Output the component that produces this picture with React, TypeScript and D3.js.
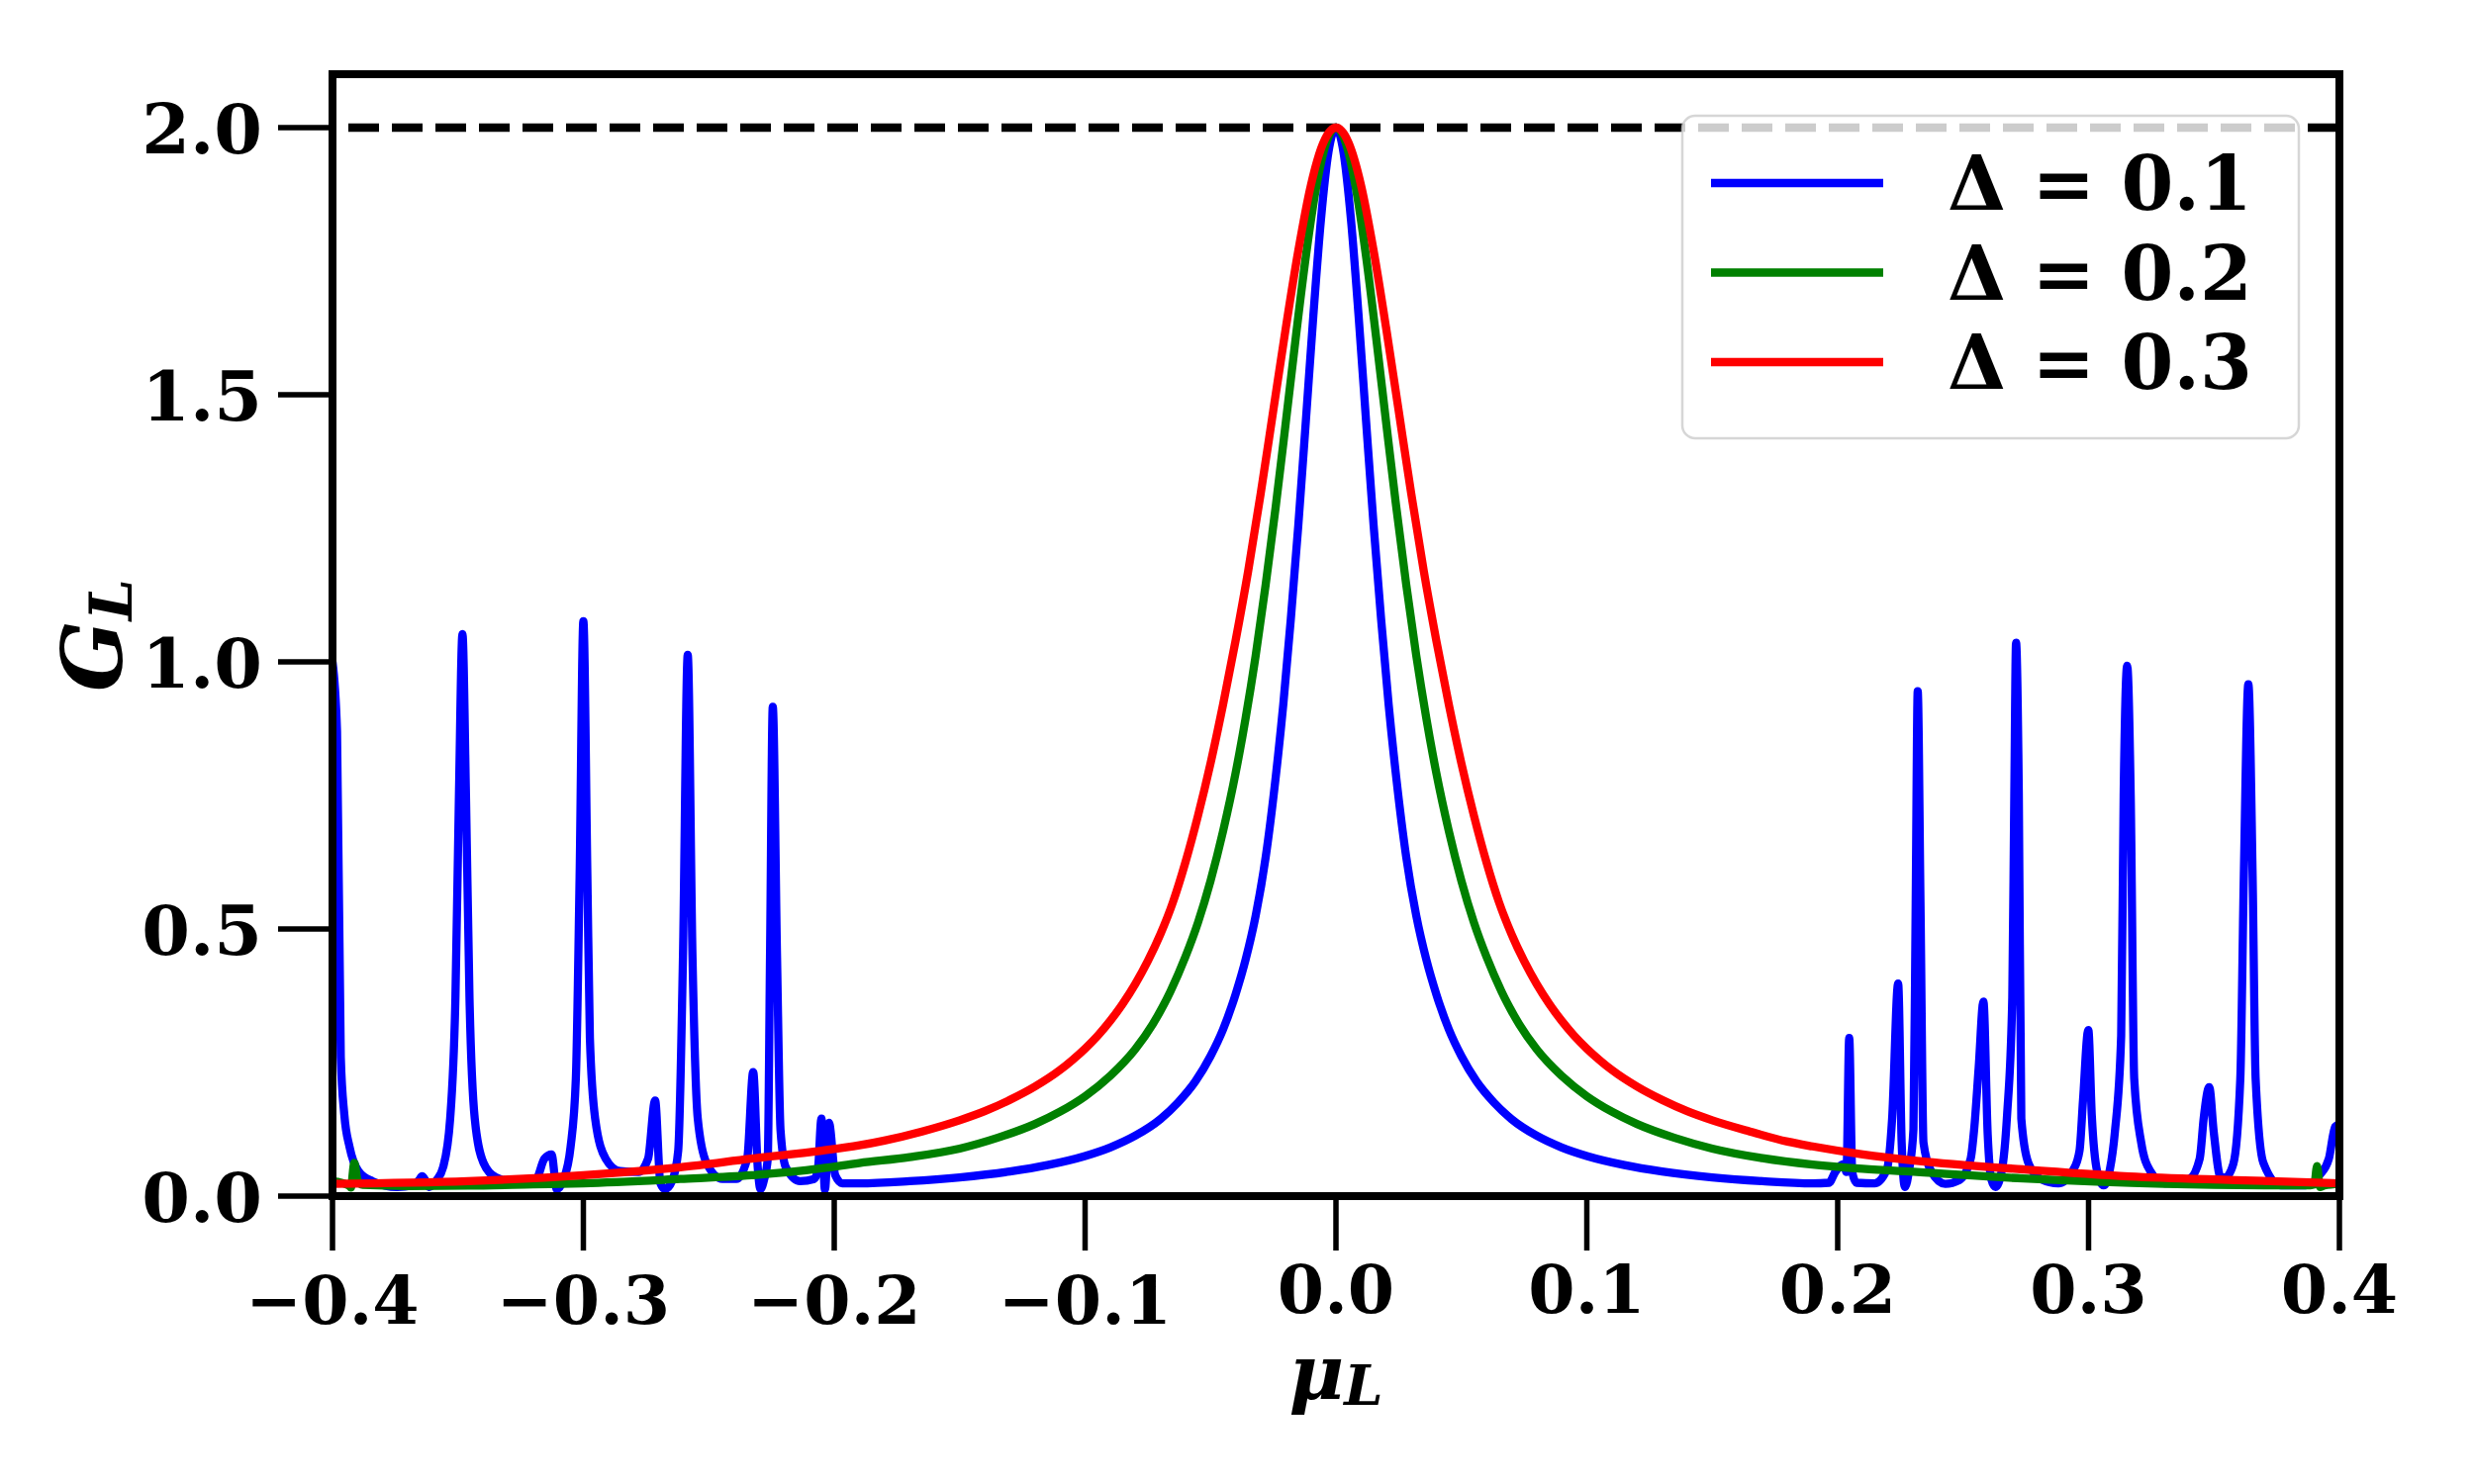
import { useEffect, useRef } from 'react'
import * as d3 from 'd3'

const W = 2500
const H = 1500

// x ticks / y ticks of the axes
const xTicks = [-0.4, -0.3, -0.2, -0.1, 0, 0.1, 0.2, 0.3, 0.4]
const yTicks = [0, 0.5, 1.0, 1.5, 2.0]

// G_L vs mu_L, Delta = 0.1
const delta01: [number, number][] = [
  [-0.4, 1.0], [-0.3982, 0.87], [-0.3967, 0.26], [-0.3953, 0.153], [-0.3932, 0.092],
  [-0.3897, 0.047], [-0.3841, 0.028], [-0.3742, 0.017], [-0.368, 0.02], [-0.3655, 0.03],
  [-0.3643, 0.037], [-0.3628, 0.028], [-0.3615, 0.017], [-0.3585, 0.03], [-0.3559, 0.054],
  [-0.3531, 0.145], [-0.351, 0.372], [-0.3496, 0.75], [-0.3482, 1.052], [-0.3468, 0.75],
  [-0.3454, 0.372], [-0.3433, 0.145], [-0.3398, 0.062], [-0.3348, 0.035], [-0.325, 0.025],
  [-0.319, 0.03], [-0.3155, 0.07], [-0.3127, 0.078], [-0.3106, 0.013], [-0.308, 0.03],
  [-0.3051, 0.092], [-0.303, 0.22], [-0.3015, 0.598], [-0.3, 1.076], [-0.2984, 0.598],
  [-0.2974, 0.296], [-0.2953, 0.145], [-0.2911, 0.07], [-0.2855, 0.047], [-0.278, 0.045],
  [-0.2742, 0.07], [-0.2714, 0.179], [-0.2693, 0.024], [-0.2675, 0.013], [-0.2645, 0.03],
  [-0.2622, 0.085], [-0.2603, 0.447], [-0.2584, 1.013], [-0.2565, 0.447], [-0.2544, 0.145],
  [-0.2509, 0.062], [-0.2446, 0.032], [-0.239, 0.032], [-0.2347, 0.07], [-0.2323, 0.232],
  [-0.2305, 0.054], [-0.2294, 0.013], [-0.228, 0.03], [-0.2265, 0.07], [-0.2256, 0.447],
  [-0.2245, 0.916], [-0.2228, 0.447], [-0.2214, 0.123], [-0.2193, 0.054], [-0.2136, 0.028],
  [-0.208, 0.032], [-0.2065, 0.05], [-0.2051, 0.145], [-0.2037, 0.012], [-0.2021, 0.137],
  [-0.1996, 0.039], [-0.1968, 0.024], [-0.19, 0.024], [-0.17, 0.028], [-0.15, 0.035],
  [-0.13, 0.046], [-0.115, 0.058], [-0.1, 0.075], [-0.09, 0.091], [-0.08, 0.113],
  [-0.07, 0.144], [-0.063, 0.175], [-0.056, 0.215], [-0.05, 0.262], [-0.045, 0.312],
  [-0.04, 0.378], [-0.036, 0.443], [-0.032, 0.525], [-0.028, 0.635], [-0.024, 0.785],
  [-0.021, 0.92], [-0.018, 1.08], [-0.015, 1.256], [-0.012, 1.451], [-0.009, 1.649],
  [-0.006, 1.827], [-0.003, 1.954], [0, 2.0], [0.003, 1.954], [0.006, 1.827],
  [0.009, 1.649], [0.012, 1.451], [0.015, 1.256], [0.018, 1.08], [0.021, 0.92],
  [0.024, 0.785], [0.028, 0.635], [0.032, 0.525], [0.036, 0.443], [0.04, 0.378],
  [0.045, 0.312], [0.05, 0.262], [0.056, 0.215], [0.063, 0.175], [0.07, 0.144],
  [0.08, 0.113], [0.09, 0.091], [0.1, 0.075], [0.115, 0.058], [0.13, 0.046],
  [0.15, 0.035], [0.17, 0.028], [0.19, 0.024], [0.1965, 0.025], [0.199, 0.045],
  [0.2025, 0.06], [0.2035, 0.045], [0.2046, 0.296], [0.2058, 0.045], [0.2075, 0.025],
  [0.2147, 0.024], [0.2196, 0.05], [0.2217, 0.145], [0.2241, 0.398], [0.2255, 0.1],
  [0.2268, 0.017], [0.2285, 0.05], [0.2302, 0.125], [0.2311, 0.55], [0.2319, 0.945],
  [0.233, 0.55], [0.2342, 0.1], [0.2372, 0.047], [0.2429, 0.023], [0.2485, 0.03],
  [0.253, 0.07], [0.2544, 0.125], [0.2562, 0.24], [0.2581, 0.364], [0.2598, 0.115],
  [0.2612, 0.032], [0.2629, 0.017], [0.2655, 0.05], [0.2675, 0.15], [0.2696, 0.372],
  [0.2704, 0.75], [0.2711, 1.036], [0.2722, 0.75], [0.2732, 0.145], [0.276, 0.062],
  [0.2809, 0.032], [0.288, 0.024], [0.294, 0.05], [0.2964, 0.085], [0.2978, 0.18],
  [0.2999, 0.311], [0.3013, 0.15], [0.3034, 0.047], [0.306, 0.02], [0.3085, 0.05],
  [0.3105, 0.12], [0.313, 0.3], [0.314, 0.75], [0.3154, 0.993], [0.3168, 0.75],
  [0.3182, 0.22], [0.321, 0.1], [0.3246, 0.047], [0.3302, 0.024], [0.3401, 0.032],
  [0.3443, 0.07], [0.346, 0.15], [0.3481, 0.204], [0.3499, 0.12], [0.3527, 0.035],
  [0.3545, 0.035], [0.3577, 0.06], [0.3605, 0.22], [0.3619, 0.6], [0.3637, 0.958],
  [0.3654, 0.6], [0.3666, 0.22], [0.3697, 0.062], [0.3767, 0.02], [0.3866, 0.02],
  [0.3922, 0.04], [0.3958, 0.07], [0.3983, 0.13], [0.4, 0.135],
]

// Delta = 0.2
const delta02: [number, number][] = [
  [-0.4, 0.028], [-0.3935, 0.02], [-0.3927, 0.016], [-0.3913, 0.062], [-0.39, 0.03],
  [-0.388, 0.021], [-0.37, 0.019], [-0.346, 0.0195], [-0.32, 0.022], [-0.3, 0.024],
  [-0.2614, 0.032], [-0.233, 0.039], [-0.205, 0.052], [-0.19, 0.062], [-0.17, 0.073],
  [-0.15, 0.089], [-0.135, 0.109], [-0.12, 0.135], [-0.11, 0.158], [-0.1, 0.187],
  [-0.09, 0.225], [-0.08, 0.275], [-0.073, 0.322], [-0.066, 0.383], [-0.06, 0.448],
  [-0.055, 0.512], [-0.05, 0.59], [-0.045, 0.683], [-0.04, 0.792], [-0.036, 0.895],
  [-0.032, 1.012], [-0.028, 1.145], [-0.024, 1.291], [-0.02, 1.448], [-0.016, 1.608],
  [-0.012, 1.759], [-0.008, 1.885], [-0.004, 1.97], [0, 2.0], [0.004, 1.97],
  [0.008, 1.885], [0.012, 1.759], [0.016, 1.608], [0.02, 1.448], [0.024, 1.291],
  [0.028, 1.145], [0.032, 1.012], [0.036, 0.895], [0.04, 0.792], [0.045, 0.683],
  [0.05, 0.59], [0.055, 0.512], [0.06, 0.448], [0.066, 0.383], [0.073, 0.322],
  [0.08, 0.275], [0.09, 0.225], [0.1, 0.187], [0.11, 0.158], [0.12, 0.135],
  [0.135, 0.109], [0.15, 0.089], [0.17, 0.071], [0.19, 0.059], [0.21, 0.051],
  [0.2316, 0.045], [0.2739, 0.033], [0.3302, 0.023], [0.3866, 0.02], [0.39, 0.022],
  [0.3911, 0.056], [0.3922, 0.017], [0.394, 0.02], [0.4, 0.023],
]

// Delta = 0.3
const delta03: [number, number][] = [
  [-0.4, 0.023], [-0.346, 0.028], [-0.3, 0.039], [-0.2614, 0.054], [-0.233, 0.07],
  [-0.205, 0.085], [-0.19, 0.095], [-0.18, 0.104], [-0.165, 0.121], [-0.15, 0.142],
  [-0.14, 0.159], [-0.13, 0.18], [-0.12, 0.205], [-0.11, 0.236], [-0.105, 0.255],
  [-0.1, 0.276], [-0.095, 0.3], [-0.09, 0.328], [-0.085, 0.36], [-0.08, 0.397],
  [-0.075, 0.44], [-0.07, 0.49], [-0.065, 0.55], [-0.06, 0.625], [-0.055, 0.712],
  [-0.05, 0.81], [-0.045, 0.92], [-0.04, 1.04], [-0.035, 1.17], [-0.03, 1.315],
  [-0.025, 1.47], [-0.02, 1.625], [-0.015, 1.77], [-0.01, 1.892], [-0.005, 1.972],
  [0, 2.0], [0.005, 1.972], [0.01, 1.892], [0.015, 1.77], [0.02, 1.625],
  [0.025, 1.47], [0.03, 1.315], [0.035, 1.17], [0.04, 1.04], [0.045, 0.92],
  [0.05, 0.81], [0.055, 0.712], [0.06, 0.625], [0.065, 0.55], [0.07, 0.49],
  [0.075, 0.44], [0.08, 0.397], [0.085, 0.36], [0.09, 0.328], [0.095, 0.3],
  [0.1, 0.276], [0.105, 0.255], [0.11, 0.236], [0.12, 0.205], [0.13, 0.18],
  [0.14, 0.159], [0.15, 0.142], [0.165, 0.121], [0.18, 0.102], [0.19, 0.093],
  [0.21, 0.078], [0.2316, 0.066], [0.2739, 0.05], [0.3161, 0.037], [0.3584, 0.03],
  [0.4, 0.024],
]

const legendLabels = ['Δ = 0.1', 'Δ = 0.2', 'Δ = 0.3']
const colors = ['#0000ff', '#008000', '#ff0000']
const seriesData = [delta01, delta02, delta03]

const series = seriesData.map((values, i) => ({ label: legendLabels[i], color: colors[i], values }))

const FONT = '"DejaVu Serif", serif'

export default function App() {
  const svgRef = useRef<SVGSVGElement | null>(null)

  useEffect(() => {
    if (!svgRef.current) return
    const svg = d3.select(svgRef.current)
    svg.selectAll('*').remove()

    const margin = { top: 75, right: 136, bottom: 291, left: 336 }
    const x = d3.scaleLinear().domain([-0.4, 0.4]).range([margin.left, W - margin.right])
    const y = d3.scaleLinear().domain([0, 2.1]).range([H - margin.bottom, margin.top])

    svg.append('rect').attr('width', W).attr('height', H).attr('fill', '#fff')

    svg.append('defs').append('clipPath').attr('id', 'plot-area')
      .append('rect')
      .attr('x', x(-0.4)).attr('y', y(2.1))
      .attr('width', x(0.4) - x(-0.4)).attr('height', y(0) - y(2.1))

    const plot = svg.append('g').attr('clip-path', 'url(#plot-area)')

    // reference line at G_L = 2
    plot.append('line')
      .attr('x1', x(-0.4)).attr('x2', x(0.4))
      .attr('y1', y(2)).attr('y2', y(2))
      .attr('stroke', '#000')
      .attr('stroke-width', 8.3)
      .attr('stroke-dasharray', '31 13')
      .attr('stroke-dashoffset', 28)

    const line = d3.line<[number, number]>()
      .x(d => x(d[0]))
      .y(d => y(d[1]))
      .curve(d3.curveMonotoneX)

    series.forEach(s => {
      plot.append('path')
        .datum(s.values)
        .attr('fill', 'none')
        .attr('stroke', s.color)
        .attr('stroke-width', 8.3)
        .attr('stroke-linejoin', 'round')
        .attr('stroke-linecap', 'round')
        .attr('d', line)
    })

    // spines
    svg.append('rect')
      .attr('x', x(-0.4)).attr('y', y(2.1))
      .attr('width', x(0.4) - x(-0.4)).attr('height', y(0) - y(2.1))
      .attr('fill', 'none')
      .attr('stroke', '#000')
      .attr('stroke-width', 8)

    const tickLen = 55
    const fmt = (v: number) => (v < 0 ? '\u2212' : '') + Math.abs(v).toFixed(1)

    // x ticks
    xTicks.forEach(v => {
      svg.append('line')
        .attr('x1', x(v)).attr('x2', x(v))
        .attr('y1', y(0)).attr('y2', y(0) + tickLen)
        .attr('stroke', '#000').attr('stroke-width', 5.5)
      svg.append('text')
        .attr('x', x(v))
        .attr('y', v < 0 ? 1338 : 1327)
        .attr('text-anchor', 'middle')
        .attr('font-family', FONT)
        .attr('font-weight', 'bold')
        .attr('font-size', 68)
        .text(fmt(v))
    })

    // y ticks
    yTicks.forEach(v => {
      svg.append('line')
        .attr('x1', x(-0.4) - tickLen).attr('x2', x(-0.4))
        .attr('y1', y(v)).attr('y2', y(v))
        .attr('stroke', '#000').attr('stroke-width', 5.5)
      svg.append('text')
        .attr('x', x(-0.4) - tickLen - 16)
        .attr('y', y(v) + 26)
        .attr('text-anchor', 'end')
        .attr('font-family', FONT)
        .attr('font-weight', 'bold')
        .attr('font-size', 70)
        .text(fmt(v))
    })

    // axis labels
    const xl = svg.append('text')
      .attr('x', (x(-0.4) + x(0.4)) / 2)
      .attr('y', 1414)
      .attr('text-anchor', 'middle')
      .attr('font-family', FONT)
      .attr('font-weight', 'bold')
      .attr('font-style', 'italic')
      .attr('font-size', 76)
    xl.append('tspan').text('μ')
    xl.append('tspan').attr('font-size', 56).attr('dy', 6).text('L')

    const yl = svg.append('text')
      .attr('transform', `translate(123,${(y(0) + y(2.1)) / 2}) rotate(-90)`)
      .attr('text-anchor', 'middle')
      .attr('font-family', FONT)
      .attr('font-weight', 'bold')
      .attr('font-style', 'italic')
      .attr('font-size', 84)
    yl.append('tspan').text('G')
    yl.append('tspan').attr('font-size', 60).attr('dy', 10).text('L')

    // legend
    const lg = svg.append('g')
    lg.append('rect')
      .attr('x', 1700).attr('y', 117)
      .attr('width', 623).attr('height', 326)
      .attr('rx', 13)
      .attr('fill', '#fff').attr('fill-opacity', 0.8)
      .attr('stroke', '#cccccc').attr('stroke-opacity', 0.8)
      .attr('stroke-width', 2.5)

    series.forEach((s, i) => {
      const ly = 185 + i * 90.5
      lg.append('line')
        .attr('x1', 1729).attr('x2', 1903)
        .attr('y1', ly).attr('y2', ly)
        .attr('stroke', s.color).attr('stroke-width', 8.3)
      lg.append('text')
        .attr('x', 1968).attr('y', ly + 27)
        .attr('font-family', FONT)
        .attr('font-weight', 'bold')
        .attr('font-size', 76)
        .text(s.label)
    })
  }, [])

  return (
    <div style={{ position: 'absolute', left: 0, top: 0 }}>
      <svg ref={svgRef} width={W} height={H} style={{ display: 'block' }} />
    </div>
  )
}
